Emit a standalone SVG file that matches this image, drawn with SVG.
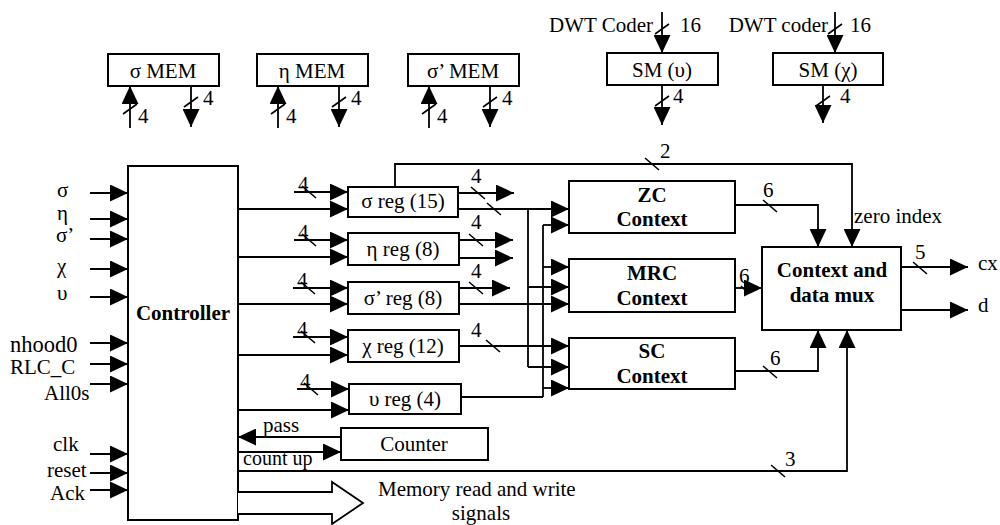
<svg xmlns="http://www.w3.org/2000/svg" xmlns:xlink="http://www.w3.org/1999/xlink" width="1000" height="525" viewBox="0 0 1000 525">
  <style>
    text { font-family: "Liberation Serif", "Times New Roman", serif; font-size: 21px; fill: #000; }
    .b { font-weight: bold; }
    .c { text-anchor: middle; }
    .e { text-anchor: end; }
    .box { fill: #fff; stroke: #000; stroke-width: 2; }
    .w { fill: none; stroke: #000; stroke-width: 1.8; }
    .a { marker-end: url(#arr); }
    .sl { fill: none; stroke: #000; stroke-width: 1.6; }
  </style>
  <defs>
    <marker id="arr" markerUnits="userSpaceOnUse" viewBox="0 0 18 17" refX="18" refY="8.5" markerWidth="18" markerHeight="17" orient="auto">
      <path d="M0,0 L18,8.5 L0,17 Z" fill="#000"/>
    </marker>
    <!-- bus-width tick on a horizontal wire -->
    <path id="th" d="M-7,-6 L7,6"/>
    <!-- bus-width tick on a vertical wire -->
    <path id="tv" d="M-7,5 L7,-5"/>
  </defs>

  <rect width="1000" height="525" fill="#fff"/>

  <!-- memories -->
  <g id="sigma-mem">
    <rect class="box" x="108" y="54" width="111" height="32"/>
    <text class="c" x="163" y="78">σ MEM</text>
  </g>
  <g id="eta-mem">
    <rect class="box" x="257" y="54" width="111" height="32"/>
    <text class="c" x="312" y="78">η MEM</text>
  </g>
  <g id="sigmap-mem">
    <rect class="box" x="408" y="54" width="111" height="32"/>
    <text class="c" x="463" y="78">σ’ MEM</text>
  </g>
  <g id="sm-upsilon">
    <rect class="box" x="607" y="53" width="111" height="32"/>
    <text class="c" x="662" y="77">SM (υ)</text>
  </g>
  <g id="sm-chi">
    <rect class="box" x="773" y="53" width="110" height="32"/>
    <text class="c" x="828" y="77">SM (χ)</text>
  </g>

  <!-- controller -->
  <g id="controller">
    <rect class="box" x="128" y="166" width="110" height="354"/>
    <text class="b c" x="183" y="320">Controller</text>
  </g>

  <!-- registers -->
  <g id="sigma-reg">
    <rect class="box" x="348" y="187" width="110" height="30"/>
    <text class="c" x="403" y="208">σ reg (15)</text>
  </g>
  <g id="eta-reg">
    <rect class="box" x="348" y="233" width="111" height="32"/>
    <text class="c" x="403" y="256">η reg (8)</text>
  </g>
  <g id="sigmap-reg">
    <rect class="box" x="348" y="282" width="111" height="32"/>
    <text class="c" x="403" y="305">σ’ reg (8)</text>
  </g>
  <g id="chi-reg">
    <rect class="box" x="348" y="330" width="111" height="32"/>
    <text class="c" x="403" y="353">χ reg (12)</text>
  </g>
  <g id="upsilon-reg">
    <rect class="box" x="349" y="384" width="112" height="30"/>
    <text class="c" x="405" y="406">υ reg (4)</text>
  </g>
  <g id="counter">
    <rect class="box" x="341" y="428" width="147" height="32"/>
    <text class="c" x="414" y="451">Counter</text>
  </g>

  <!-- context units -->
  <g id="zc-context">
    <rect class="box" x="569" y="181" width="166" height="52"/>
    <text class="b c" x="652" y="202">ZC</text>
    <text class="b c" x="652" y="226">Context</text>
  </g>
  <g id="mrc-context">
    <rect class="box" x="569" y="259" width="166" height="53"/>
    <text class="b c" x="652" y="280">MRC</text>
    <text class="b c" x="652" y="305">Context</text>
  </g>
  <g id="sc-context">
    <rect class="box" x="569" y="338" width="166" height="51"/>
    <text class="b c" x="652" y="358">SC</text>
    <text class="b c" x="652" y="383">Context</text>
  </g>
  <g id="mux">
    <rect class="box" x="762" y="247" width="139" height="83"/>
    <text class="b c" x="832" y="277">Context and</text>
    <text class="b c" x="832" y="302">data mux</text>
  </g>

  <!-- connectors -->
  <g id="connectors">
    <!-- memory ports -->
    <path class="w a" d="M130,128 V86"/>
    <path class="w a" d="M191,86 V127"/>
    <path class="w a" d="M278,128 V86"/>
    <path class="w a" d="M339,86 V127"/>
    <path class="w a" d="M429,128 V86"/>
    <path class="w a" d="M490,86 V127"/>
    <path class="w a" d="M662,12 V53"/>
    <path class="w a" d="M662,85 V125"/>
    <path class="w a" d="M835,12 V53"/>
    <path class="w a" d="M823,85 V123"/>

    <!-- controller inputs -->
    <path class="w a" d="M90,193 H128"/>
    <path class="w a" d="M90,219 H128"/>
    <path class="w a" d="M90,239 H128"/>
    <path class="w a" d="M90,269 H128"/>
    <path class="w a" d="M90,297 H128"/>
    <path class="w a" d="M90,343 H128"/>
    <path class="w a" d="M90,364 H128"/>
    <path class="w a" d="M90,384 H128"/>
    <path class="w a" d="M90,454 H128"/>
    <path class="w a" d="M90,473 H128"/>
    <path class="w a" d="M90,490 H128"/>

    <!-- register data inputs -->
    <path class="w a" d="M294,192 H348"/>
    <path class="w a" d="M294,240 H348"/>
    <path class="w a" d="M293,288 H348"/>
    <path class="w a" d="M293,337 H348"/>
    <path class="w a" d="M297,389 H349"/>

    <!-- register controls from controller -->
    <path class="w a" d="M238,209 H348"/>
    <path class="w a" d="M238,257 H348"/>
    <path class="w a" d="M238,304 H348"/>
    <path class="w a" d="M238,355 H348"/>
    <path class="w a" d="M238,410 H349"/>

    <!-- counter handshake -->
    <path class="w a" d="M341,437 H238"/>
    <path class="w a" d="M238,452 H341"/>

    <!-- register outputs -->
    <path class="w a" d="M458,193 H514"/>
    <path class="w a" d="M459,240 H513"/>
    <path class="w a" d="M459,258 H513"/>
    <path class="w a" d="M459,288 H510"/>
    <path class="w a" d="M458,209 H569"/>
    <path class="w a" d="M459,304 H569"/>
    <path class="w a" d="M459,346 H569"/>
    <path class="w" d="M461,397 H543"/>

    <!-- distribution buses -->
    <path class="w" d="M528,209 V367"/>
    <path class="w" d="M543,225 V397"/>
    <path class="w a" d="M543,225 H569"/>
    <path class="w a" d="M543,267 H569"/>
    <path class="w a" d="M528,287 H569"/>
    <path class="w a" d="M528,367 H569"/>
    <path class="w a" d="M543,388 H569"/>

    <!-- context outputs into mux -->
    <path class="w a" d="M735,205 H818 V247"/>
    <path class="w a" d="M735,288 H762"/>
    <path class="w a" d="M735,371 H818 V330"/>
    <path class="w a" d="M395,187 V164 H852 V247"/>
    <path class="w a" d="M238,471 H847 V330"/>

    <!-- mux outputs -->
    <path class="w a" d="M901,267 H968"/>
    <path class="w a" d="M901,310 H968"/>

    <!-- memory read / write signals -->
    <path d="M238,492 H332 V482 L363,503 L332,524 V514 H238" fill="#fff" stroke="#000" stroke-width="1.8"/>

    <!-- bus-width ticks -->
    <g class="sl">
      <use xlink:href="#tv" x="130" y="109"/>
      <use xlink:href="#tv" x="191" y="102"/>
      <use xlink:href="#tv" x="278" y="109"/>
      <use xlink:href="#tv" x="339" y="102"/>
      <use xlink:href="#tv" x="429" y="109"/>
      <use xlink:href="#tv" x="490" y="102"/>
      <use xlink:href="#tv" x="662" y="29"/>
      <use xlink:href="#tv" x="662" y="101"/>
      <use xlink:href="#tv" x="835" y="29"/>
      <use xlink:href="#tv" x="823" y="101"/>
      <use xlink:href="#th" x="309" y="192"/>
      <use xlink:href="#th" x="309" y="240"/>
      <use xlink:href="#th" x="308" y="288"/>
      <use xlink:href="#th" x="308" y="337"/>
      <use xlink:href="#th" x="311" y="389"/>
      <use xlink:href="#th" x="478" y="193"/>
      <use xlink:href="#th" x="494" y="209"/>
      <use xlink:href="#th" x="476" y="240"/>
      <use xlink:href="#th" x="476" y="288"/>
      <use xlink:href="#th" x="493" y="346"/>
      <use xlink:href="#th" x="652" y="164"/>
      <use xlink:href="#th" x="770" y="206"/>
      <use xlink:href="#th" x="770" y="372"/>
      <use xlink:href="#th" x="920" y="268"/>
      <use xlink:href="#th" x="778" y="471"/>
      <path d="M741,286 L746,291"/>
    </g>
  </g>

  <!-- wire labels -->
  <g id="labels">
    <text x="138" y="123">4</text>
    <text x="203" y="105">4</text>
    <text x="286" y="123">4</text>
    <text x="351" y="105">4</text>
    <text x="437" y="123">4</text>
    <text x="502" y="105">4</text>
    <text class="e" x="653" y="32">DWT Coder</text>
    <text x="680" y="32">16</text>
    <text x="673" y="103">4</text>
    <text class="e" x="828" y="32">DWT coder</text>
    <text x="850" y="32">16</text>
    <text x="840" y="103">4</text>

    <text x="57" y="197">σ</text>
    <text x="57" y="220">η</text>
    <text x="56" y="242">σ’</text>
    <text x="57" y="273">χ</text>
    <text x="57" y="300">υ</text>
    <text x="10" y="352" style="font-size:22.5px">nhood0</text>
    <text x="10" y="374">RLC_C</text>
    <text x="44" y="400">All0s</text>
    <text x="53" y="451">clk</text>
    <text x="47" y="477">reset</text>
    <text x="50" y="500">Ack</text>

    <text x="298" y="191">4</text>
    <text x="298" y="239">4</text>
    <text x="297" y="287">4</text>
    <text x="297" y="336">4</text>
    <text x="300" y="388">4</text>
    <text x="471" y="183">4</text>
    <text x="471" y="229">4</text>
    <text x="471" y="278">4</text>
    <text x="471" y="337">4</text>

    <text x="263" y="432">pass</text>
    <text x="243" y="465" style="font-size:20px">count up</text>
    <text x="378" y="496">Memory read and write</text>
    <text class="c" x="481" y="520">signals</text>

    <text x="660" y="158">2</text>
    <text x="763" y="197">6</text>
    <text x="739" y="283">6</text>
    <text x="770" y="365">6</text>
    <text x="854" y="223">zero index</text>
    <text x="915" y="259">5</text>
    <text x="978" y="270">cx</text>
    <text x="978" y="312">d</text>
    <text x="785" y="466">3</text>
  </g>
</svg>
